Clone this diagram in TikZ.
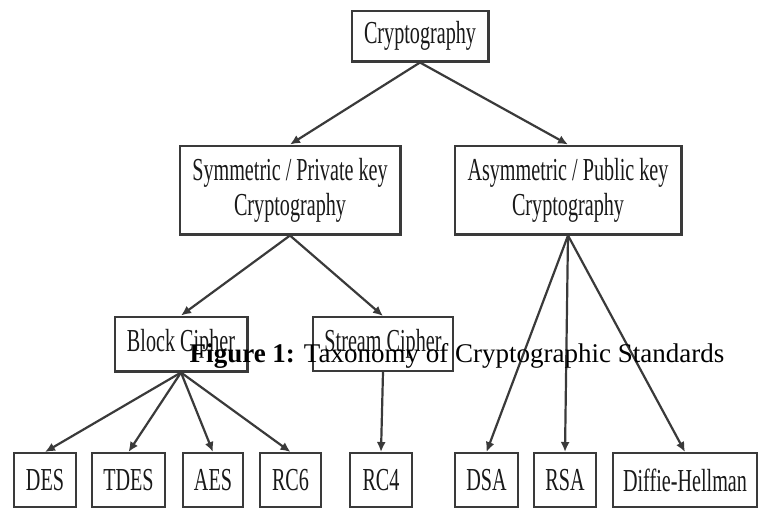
\documentclass[tikz,border=0pt]{standalone}
\usepackage{fontspec}
\setmainfont{Liberation Serif}
\newfontfamily\narrowfont[FakeStretch=0.63]{Liberation Serif}
\usepackage{xcolor}
\usetikzlibrary{positioning,arrows.meta}
\definecolor{linegray}{HTML}{3A3A3A}
\tikzset{
	box/.style = {
		draw=linegray, line width=1.2pt, rectangle, fill=white, align=center,
		inner sep=0pt, text=black!90,
		font=\narrowfont\fontsize{16}{17.5}\selectfont
	}
}
\tikzset{
	leaf/.style = {
		box, minimum height=26.8pt
	}
}
\tikzset{
	branch/.style = {
		draw=linegray, line width=1.1pt, -{Latex[length=5pt,width=4.5pt]}
	}
}
\tikzset{
	caption/.style = {
		inner sep=0pt, text=black, font=\fontsize{13.5}{16}\selectfont
	}
}

\begin{document}
\begin{tikzpicture}[x=0.5pt, y=-0.5pt]
	\useasboundingbox (0,0) rectangle (760,510);
	% upper levels
	\node[box, minimum width=68.3pt, minimum height=25.3pt](Crypto) at (420,36){Cryptography};
	\node[box, minimum width=110.3pt, minimum height=44.3pt](Symmetric) at (290,190){Symmetric / Private key\\Cryptography};
	\node[box, minimum width=113.3pt, minimum height=44.3pt](Asymmetric) at (568,190){Asymmetric / Public key\\Cryptography};
	\node[box, minimum width=66.3pt, minimum height=27.3pt](Block) at (181,344){Block Cipher};
	\node[box, minimum width=69.8pt, minimum height=26.8pt](Stream) at (383,344){Stream Cipher};
	% algorithms
	\node[leaf, minimum width=30.8pt](DES) at (45,480){DES};
	\node[leaf, minimum width=36.3pt, right=7pt of DES](TDES){TDES};
	\node[leaf, minimum width=29.8pt, right=8pt of TDES](AES){AES};
	\node[leaf, minimum width=30.3pt, right=7.5pt of AES](RC6){RC6};
	\node[leaf, minimum width=30.8pt, right=13.5pt of RC6](RC4){RC4};
	\node[leaf, minimum width=31.3pt, right=20.5pt of RC4](DSA){DSA};
	\node[leaf, minimum width=30.8pt, right=7pt of DSA](RSA){RSA};
	\node[leaf, minimum width=71.8pt, right=7.5pt of RSA](Diffie){Diffie-Hellman};
	\draw[branch] (Crypto.south) -- (Symmetric.north);
	\draw[branch] (Crypto.south) -- (Asymmetric.north);
	\draw[branch] (Symmetric.south) -- (Block.north);
	\draw[branch] (Symmetric.south) -- (Stream.north);
	\foreach \alg in {DES, TDES, AES, RC6}
		\draw[branch] (Block.south) -- (\alg.north);
	\draw[branch] (Stream.south) -- (RC4.north);
	\foreach \alg in {DSA, RSA, Diffie}
		\draw[branch] (Asymmetric.south) -- (\alg.north);
	% caption over the picture
	\node[caption](Caption) at (457,356){\textbf{Figure 1:} Taxonomy of Cryptographic Standards};
\end{tikzpicture}
\end{document}
